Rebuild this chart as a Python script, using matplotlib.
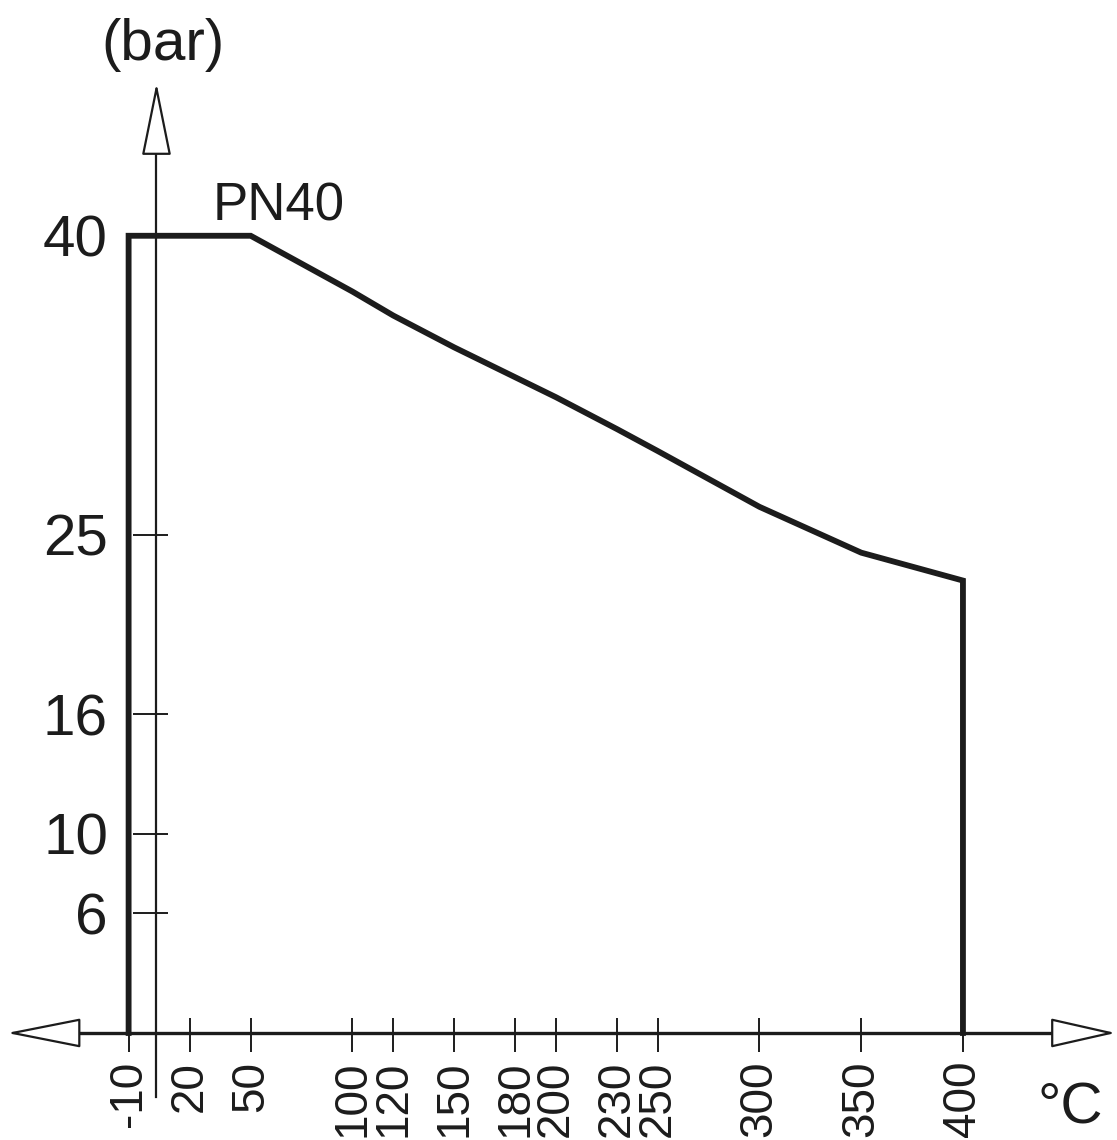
import matplotlib
matplotlib.use("Agg")
import matplotlib.pyplot as plt
from matplotlib.ticker import FixedLocator

plt.rcParams['font.family'] = ['Liberation Sans Narrow', 'Liberation Sans', 'DejaVu Sans']

# ---- data ----
temps = [-10, -10, 50, 100, 120, 150, 180, 200, 230, 250, 300, 350, 400, 400]
pressure = [0, 40, 40, 37.2, 36.0, 34.4, 32.9, 31.9, 30.3, 29.2, 26.4, 24.1, 22.7, 0]
x_ticks = [-10, 20, 50, 100, 120, 150, 180, 200, 230, 250, 300, 350, 400]
x_tick_labels = ["-10", "20", "50", "100", "120", "150", "180", "200", "230", "250", "300", "350", "400"]
y_ticks = [6, 10, 16, 25, 40]
y_tick_labels = ["6", "10", "16", "25", "40"]
curve_label = "PN40"
y_unit = "(bar)"
x_unit = "°C"

INK = '#1c1c1c'
FS = 42
FS_X = 33

fig = plt.figure(figsize=(11.17, 11.40), dpi=100)
ax = fig.add_axes([0, 0, 1, 1])
ax.set_xlim(-73.2, 475.7)
ax.set_ylim(-5.37, 51.83)
ax.patch.set_alpha(0)

# curve
ax.plot(temps, pressure, color=INK, lw=4.2, solid_joinstyle='miter', zorder=3)

# spines as axes
for s in ['top', 'right']:
    ax.spines[s].set_visible(False)
ax.spines['left'].set_position(('data', 3.7))
ax.spines['bottom'].set_position(('data', 0))
ax.spines['left'].set_bounds(-3.2, 44.4)
ax.spines['bottom'].set_bounds(-36.9, 446.7)
ax.spines['left'].set_linewidth(1.6)
ax.spines['bottom'].set_linewidth(2.4)
ax.spines['left'].set_color(INK)
ax.spines['bottom'].set_color(INK)

# ticks
ax.xaxis.remove_overlapping_locs = False
ax.yaxis.remove_overlapping_locs = False
ax.set_xticks(x_ticks)
ax.set_xticklabels(x_tick_labels, rotation=90, fontsize=FS_X, color=INK)
ax.xaxis.set_minor_locator(FixedLocator(x_ticks))
ax.set_yticks(y_ticks)
ax.set_yticklabels(y_tick_labels, fontsize=FS, color=INK)
ax.yaxis.set_minor_locator(FixedLocator(y_ticks))

ax.tick_params(axis='x', which='major', direction='in', length=10.8, width=1.4, color=INK, pad=20)
ax.tick_params(axis='x', which='minor', direction='out', length=13.7, width=1.4, color=INK)
ax.tick_params(axis='y', which='major', direction='in', length=8.3, width=1.4, color=INK, pad=35)
ax.tick_params(axis='y', which='minor', direction='out', length=16.9, width=1.4, color=INK)

# arrow heads (hollow)
def head(tip, base, hl, hw):
    ax.annotate('', xy=tip, xytext=base, xycoords='data',
                arrowprops=dict(arrowstyle=f'-|>,head_length={hl},head_width={hw}',
                                fc='white', ec=INK, lw=1.6, shrinkA=0, shrinkB=0,
                                mutation_scale=10), annotation_clip=False)

head((-69.8, 0), (-36.9, 0), 4.8, 0.95)
head((475.0, 0), (446.7, 0), 4.2, 0.95)
head((3.7, 47.67), (3.7, 44.4), 4.7, 0.95)

# texts
ax.text(6.9, 48.82, y_unit, ha='center', va='baseline', fontsize=FS, color=INK)
ax.text(31.4, 40.79, curve_label, ha='left', va='baseline', fontsize=38, color=INK)
ax.text(436.4, -4.52, x_unit, ha='left', va='baseline', fontsize=FS, color=INK)

fig.savefig('out.png', dpi=100)
